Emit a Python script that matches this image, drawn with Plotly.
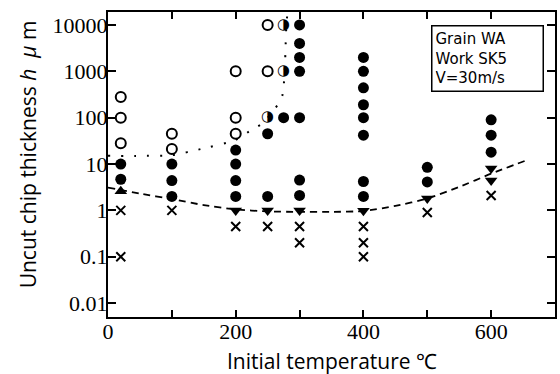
import plotly.graph_objects as go

# ---- data (temperature in degC, uncut chip thickness h in um) ----
filled_T = [20, 20,
            100, 100, 100,
            200, 200, 200, 200,
            250, 250,
            275,
            300, 300, 300, 300, 300, 300, 300,
            400, 400, 400, 400, 400, 400, 400, 400,
            500, 500,
            600, 600, 600]
filled_h = [10, 4.7,
            10, 4.4, 2.0,
            20, 10, 4.4, 2.0,
            45, 2.0,
            100,
            10000, 4000, 2000, 1000, 100, 4.5, 2.1,
            2000, 1000, 440, 190, 100, 42, 4.2, 2.0,
            8.5, 4.1,
            90, 42, 18]

open_T = [20, 20, 20, 100, 100, 200, 200, 200, 250, 250]
open_h = [280, 100, 28, 45, 21, 1000, 100, 45, 10000, 1000]

half_T = [250, 275, 275]
half_h = [100, 10000, 1000]

up_T = [20]
up_h = [2.6]

down_T = [200, 250, 300, 400, 500, 600, 600]
down_h = [1.0, 1.0, 1.0, 0.98, 1.8, 8.0, 4.4]

cross_T = [20, 20, 100, 200, 250, 300, 300, 400, 400, 400, 500, 600]
cross_h = [1.0, 0.1, 1.0, 0.45, 0.45, 0.45, 0.2, 0.45, 0.2, 0.1, 0.9, 2.1]

dotted_T = [0, 50, 100, 145, 200, 226, 242, 257, 268, 273, 275, 277, 278, 279, 281]
dotted_h = [15, 15, 15.5, 21, 33, 56, 75, 130, 210, 300, 460, 1200, 3000, 8000, 19000]

dashed_T = [0, 50, 100, 150, 200, 250, 300, 350, 400, 450, 500, 550, 600, 655]
dashed_h = [3.1, 2.3, 1.75, 1.3, 1.05, 0.95, 0.93, 0.93, 0.97, 1.25, 1.8, 3.2, 6.2, 12]

x_tickvals = [0, 100, 200, 300, 400, 500, 600]
x_ticktext = ["0", "", "200", "", "400", "", "600"]
y_tickvals = [0.01, 0.1, 1, 10, 100, 1000, 10000]
y_ticktext = ["0.01", "0.1", "1", "10", "100", "1000", "10000"]

note_lines = ["Grain WA", "Work SK5", "V=30m/s"]

fig = go.Figure()

fig.add_trace(go.Scatter(x=dotted_T, y=dotted_h, mode="lines",
                         line=dict(color="black", width=2, dash="2px,11px", shape="spline", smoothing=0.5),
                         hoverinfo="skip"))
fig.add_trace(go.Scatter(x=dashed_T, y=dashed_h, mode="lines",
                         line=dict(color="black", width=1.8, dash="7px,5px", shape="spline", smoothing=0.6),
                         hoverinfo="skip"))

fig.add_trace(go.Scatter(x=open_T, y=open_h, mode="markers",
                         marker=dict(symbol="circle-open", size=10, color="black", line=dict(width=2))))
fig.add_trace(go.Scatter(x=filled_T, y=filled_h, mode="markers",
                         marker=dict(symbol="circle", size=11, color="black")))
fig.add_trace(go.Scatter(x=half_T, y=half_h, mode="text", text=["◑"] * len(half_T),
                         textposition="middle center",
                         textfont=dict(family="DejaVu Sans", size=15, color="black")))
fig.add_trace(go.Scatter(x=up_T, y=up_h, mode="markers",
                         marker=dict(symbol="triangle-up", size=11, color="black")))
fig.add_trace(go.Scatter(x=down_T, y=down_h, mode="markers",
                         marker=dict(symbol="triangle-down", size=11, color="black")))
fig.add_trace(go.Scatter(x=cross_T, y=cross_h, mode="markers",
                         marker=dict(symbol="x-thin-open", size=9, color="black",
                                     line=dict(width=2, color="black"))))

tick_font = dict(family="Liberation Serif", size=22, color="black")

fig.update_xaxes(range=[0, 700], tickvals=x_tickvals, ticktext=x_ticktext,
                 ticks="inside", ticklen=7, tickwidth=1.5, tickcolor="black",
                 showline=True, linewidth=2, linecolor="black", mirror="ticks",
                 showgrid=False, zeroline=False, tickfont=tick_font, ticklabelstandoff=-6)
fig.update_yaxes(type="log", range=[-2.30, 4.28], tickvals=y_tickvals, ticktext=y_ticktext,
                 ticks="inside", ticklen=8, tickwidth=1.5, tickcolor="black",
                 showline=True, linewidth=2, linecolor="black", mirror="ticks",
                 showgrid=False, zeroline=False, tickfont=tick_font, ticklabelstandoff=-6)

fig.add_annotation(text="Initial temperature ℃", xref="paper", yref="paper",
                   x=(333 - 108) / 449, y=(317 - 361) / 305, xanchor="center", yanchor="middle",
                   showarrow=False,
                   font=dict(family="Open Sans", size=21, color="black"))
fig.add_annotation(text="Uncut chip thickness <i>h</i>  <i>μ</i> m", xref="paper", yref="paper",
                   x=(28 - 108) / 449, y=(317 - 154) / 305, xanchor="center", yanchor="middle",
                   textangle=-90, showarrow=False,
                   font=dict(family="Open Sans", size=21, color="black"))
fig.add_annotation(text="<br>".join(note_lines), xref="paper", yref="paper",
                   x=(432 - 108) / 449, y=(317 - 25) / 305, xanchor="left", yanchor="top",
                   align="left", showarrow=False, width=104, height=58, borderpad=3,
                   bordercolor="black", borderwidth=1.5, bgcolor="white",
                   font=dict(family="DejaVu Sans", size=15, color="black"))

fig.update_layout(width=560, height=374, margin=dict(l=108, r=3, t=12, b=57),
                  paper_bgcolor="white", plot_bgcolor="white", showlegend=False)

fig.write_html("out.html")
